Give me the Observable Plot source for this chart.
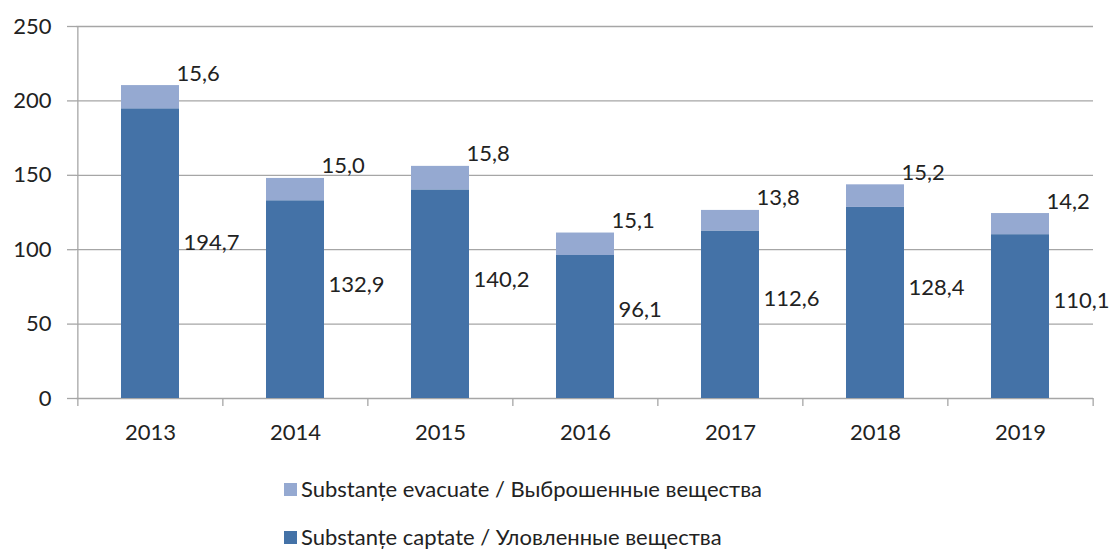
<!DOCTYPE html>
<html>
<head>
<meta charset="utf-8">
<script src="https://cdn.jsdelivr.net/npm/d3@7"></script>
<script src="https://cdn.jsdelivr.net/npm/@observablehq/plot@0.6"></script>
<style>
  html, body { margin: 0; padding: 0; background: #fff; }
  #wrap { position: relative; width: 1119px; height: 550px; font-family: Lato, "Open Sans", sans-serif; color: #222; }
  .leg { position: absolute; left: 284px; display: flex; align-items: center; height: 22px; line-height: 22px; font-size: 22px; white-space: nowrap; }
  .sw { width: 13px; height: 13px; margin-right: 4px; flex: none; }
</style>
</head>
<body>
<div id="wrap"></div>
<script>
const years = ["2013", "2014", "2015", "2016", "2017", "2018", "2019"];
const captate = [194.7, 132.9, 140.2, 96.1, 112.6, 128.4, 110.1];
const evacuate = [15.6, 15.0, 15.8, 15.1, 13.8, 15.2, 14.2];
const yTicks = [0, 50, 100, 150, 200, 250];
const seriesNames = ["Substanțe evacuate / Выброшенные вещества", "Substanțe captate / Уловленные вещества"];
const colors = ["#95a9d1", "#4472a7"];

const fmt = v => d3.format(".1f")(v).replace(".", ",");

const rows = years.map((y, i) => ({year: y, cap: captate[i], evac: evacuate[i], total: captate[i] + evacuate[i]}));
const stacked = [];
rows.forEach(r => {
  stacked.push({year: r.year, series: seriesNames[1], y1: 0, y2: r.cap});
  stacked.push({year: r.year, series: seriesNames[0], y1: r.cap, y2: r.total});
});

const W = 1119, H = 460, ML = 76, MR = 26, MT = 26, MB = 62;
const step = (W - ML - MR) / years.length;
const halfBar = step * 0.4 / 2;
const gridColor = "#a6a6a6";

const chart = Plot.plot({
  width: W, height: H,
  marginLeft: ML, marginRight: MR, marginTop: MT, marginBottom: MB,
  style: {fontFamily: "Lato, 'Open Sans', sans-serif", fontSize: "22px", color: "#222", background: "#fff"},
  x: {type: "band", domain: years, paddingInner: 0.6, paddingOuter: 0.3, label: null},
  y: {domain: [0, 250], label: null},
  color: {domain: seriesNames, range: colors},
  marks: [
    Plot.gridY(yTicks, {stroke: gridColor, strokeOpacity: 1, strokeWidth: 1.3}),
    Plot.axisY(yTicks, {tickSize: 9, tickPadding: 16, stroke: gridColor, strokeWidth: 1.3, label: null, fill: "#222"}),
    Plot.axisX({tickSize: 0, tickPadding: 26, label: null, fill: "#222"}),
    Plot.barY(stacked, {x: "year", y1: "y1", y2: "y2", fill: "series"}),
    Plot.ruleX([years[0]], {dx: -step / 2, y1: 0, y2: 250, stroke: gridColor, strokeWidth: 1.3}),
    Plot.ruleX(years, {dx: -step / 2, y1: 0, y2: -5.4, stroke: gridColor, strokeWidth: 1.3}),
    Plot.ruleX([years[years.length - 1]], {dx: step / 2, y1: 0, y2: -5.4, stroke: gridColor, strokeWidth: 1.3}),
    Plot.text(rows, {x: "year", y: "total", text: d => fmt(d.evac), dx: halfBar - 3, dy: -12, textAnchor: "start", fill: "#222"}),
    Plot.text(rows, {x: "year", y: d => d.cap * 0.456 + 15.6, text: d => fmt(d.cap), dx: halfBar + 4, textAnchor: "start", fill: "#222"})
  ]
});

const wrap = document.getElementById("wrap");
wrap.appendChild(chart);
chart.style.position = "absolute";
chart.style.left = "0px";
chart.style.top = "0px";

[0, 1].forEach(i => {
  const row = document.createElement("div");
  row.className = "leg";
  row.style.top = (i === 0 ? 478 : 526) + "px";
  const sw = document.createElement("span");
  sw.className = "sw";
  sw.style.background = colors[i];
  const t = document.createElement("span");
  t.textContent = seriesNames[i];
  row.appendChild(sw);
  row.appendChild(t);
  wrap.appendChild(row);
});
</script>
</body>
</html>
